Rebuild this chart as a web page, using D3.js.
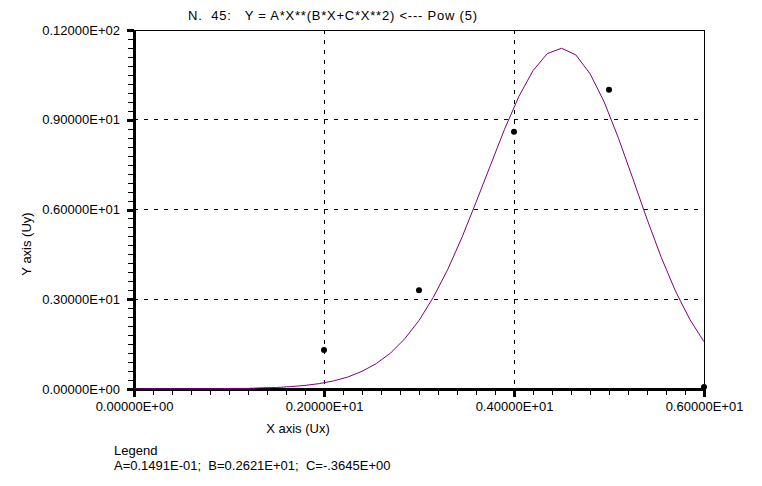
<!DOCTYPE html>
<html>
<head>
<meta charset="utf-8">
<script src="https://cdn.jsdelivr.net/npm/d3@7"></script>
<style>
  body { margin: 0; background: #fff; }
  text { font-family: "Liberation Sans", Arial, sans-serif; font-size: 13px; fill: #000; white-space: pre; }
</style>
</head>
<body>
<div id="chart"></div>
<script>
////////
// Data

// measured points
let pointX = [2, 3, 4, 5, 6];
let pointY = [1.3, 3.3, 8.6, 10.0, 0.07];

// fitted curve, vertices every 0.15 along x
let curveX = [0, 0.15, 0.3, 0.45, 0.6, 0.75, 0.9, 1.05, 1.2, 1.35,
  1.5, 1.65, 1.8, 1.95, 2.1, 2.25, 2.4, 2.55, 2.7, 2.85,
  3.0, 3.15, 3.3, 3.45, 3.6, 3.75, 3.9, 4.05, 4.2, 4.35,
  4.5, 4.65, 4.8, 4.95, 5.1, 5.25, 5.4, 5.55, 5.7, 5.85, 6.0];
let curveY = [0.00, 0.01, 0.01, 0.01, 0.01, 0.01, 0.01, 0.02, 0.02, 0.04,
  0.05, 0.08, 0.12, 0.18, 0.27, 0.40, 0.59, 0.85, 1.20, 1.68,
  2.29, 3.06, 3.98, 5.05, 6.24, 7.46, 8.68, 9.77, 10.64, 11.21,
  11.39, 11.17, 10.54, 9.59, 8.38, 7.04, 5.68, 4.40, 3.27, 2.33, 1.58];

// axis ticks and labels
let xTicks = [0, 2, 4, 6];
let xTickLabels = ["0.00000E+00", "0.20000E+01", "0.40000E+01", "0.60000E+01"];
let yTicks = [0, 3, 6, 9, 12];
let yTickLabels = ["0.00000E+00", "0.30000E+01", "0.60000E+01", "0.90000E+01", "0.12000E+02"];

let titleText = "N.  45:   Y = A*X**(B*X+C*X**2) <--- Pow (5)";
let legendLines = ["Legend", "A=0.1491E-01;  B=0.2621E+01;  C=-.3645E+00"];


////////
// SVG canvas
let svg_width = 762;
let svg_height = 486;

let plotLeft = 134, plotRight = 704, plotTop = 30, plotBottom = 389;

let svg = d3.select("#chart")
  .append("svg")
  .attr("width", svg_width)
  .attr("height", svg_height);


////////
// Scales
let xScale = d3.scaleLinear()
  .domain([0, 6])
  .range([plotLeft, plotRight]);

let yScale = d3.scaleLinear()
  .domain([0, 12])
  .range([plotBottom, plotTop]);

let xMinor = d3.range(0, 31).map(i => i * 0.2);
let yMinor = d3.range(0, 41).map(i => i * 0.3);


////////
// Dotted grid lines at inner major ticks
svg.append("g")
  .selectAll("line")
  .data(xTicks.slice(1, -1))
  .enter()
  .append("line")
  .attr("x1", d => xScale(d)).attr("x2", d => xScale(d))
  .attr("y1", plotTop).attr("y2", plotBottom)
  .attr("stroke", "#000")
  .attr("stroke-dasharray", "4,6")
  .attr("shape-rendering", "crispEdges");

svg.append("g")
  .selectAll("line")
  .data(yTicks.slice(1, -1))
  .enter()
  .append("line")
  .attr("x1", plotLeft).attr("x2", plotRight)
  .attr("y1", d => yScale(d)).attr("y2", d => yScale(d))
  .attr("stroke", "#000")
  .attr("stroke-dasharray", "4,6")
  .attr("shape-rendering", "crispEdges");

// thin top and right border
svg.append("path")
  .attr("d", `M${plotLeft},${plotTop}H${plotRight}V${plotBottom}`)
  .attr("fill", "none")
  .attr("stroke", "#000")
  .attr("shape-rendering", "crispEdges");


////////
// Axes: minor ticks, then major ticks with labels, thick axis line
let xAxisMinor = d3.axisBottom(xScale)
  .tickValues(xMinor).tickSize(6).tickFormat("").tickSizeOuter(0);
let xAxisMajor = d3.axisBottom(xScale)
  .tickValues(xTicks).tickSize(8).tickPadding(5).tickSizeOuter(0)
  .tickFormat((d, i) => xTickLabels[i]);

let yAxisMinor = d3.axisLeft(yScale)
  .tickValues(yMinor).tickSize(6).tickFormat("").tickSizeOuter(0);
let yAxisMajor = d3.axisLeft(yScale)
  .tickValues(yTicks).tickSize(7).tickPadding(7).tickSizeOuter(0)
  .tickFormat((d, i) => yTickLabels[i]);

function styleAxis(g, width) {
  g.attr("font-family", null).attr("font-size", null);
  g.selectAll(".domain").remove();
  g.selectAll(".tick line")
    .attr("stroke", "#000")
    .attr("stroke-width", width)
    .attr("shape-rendering", "crispEdges");
}

svg.append("g")
  .attr("transform", `translate(0,${plotBottom})`)
  .call(xAxisMinor)
  .call(g => styleAxis(g, 1));

svg.append("g")
  .attr("transform", `translate(0,${plotBottom})`)
  .call(xAxisMajor)
  .call(g => styleAxis(g, 3));

svg.append("g")
  .attr("transform", `translate(${plotLeft},0)`)
  .call(yAxisMinor)
  .call(g => styleAxis(g, 1));

svg.append("g")
  .attr("transform", `translate(${plotLeft},0)`)
  .call(yAxisMajor)
  .call(g => styleAxis(g, 3));

// thick axis lines
svg.append("line")
  .attr("x1", plotLeft - 2).attr("x2", plotRight + 2)
  .attr("y1", plotBottom).attr("y2", plotBottom)
  .attr("stroke", "#000").attr("stroke-width", 3)
  .attr("shape-rendering", "crispEdges");
svg.append("line")
  .attr("x1", plotLeft).attr("x2", plotLeft)
  .attr("y1", plotTop).attr("y2", plotBottom + 2)
  .attr("stroke", "#000").attr("stroke-width", 3)
  .attr("shape-rendering", "crispEdges");


////////
// Fitted curve and points
let curveData = curveX.map((x, i) => ({x: x, y: curveY[i]}));

let line = d3.line()
  .x(d => xScale(d.x))
  .y(d => yScale(d.y));

svg.append("path")
  .datum(curveData)
  .attr("d", line)
  .attr("fill", "none")
  .attr("stroke", "#800080")
  .attr("stroke-width", 1);

svg.selectAll("circle.pt")
  .data(pointX.map((x, i) => ({x: x, y: pointY[i]})))
  .enter()
  .append("circle")
  .attr("class", "pt")
  .attr("r", 3)
  .attr("fill", "#000")
  .attr("cx", d => xScale(d.x))
  .attr("cy", d => yScale(d.y));


////////
// Titles and legend
svg.append("text")
  .attr("x", 188).attr("y", 20)
  .attr("textLength", 289)
  .attr("lengthAdjust", "spacing")
  .text(titleText);

svg.append("text")
  .attr("x", 298).attr("y", 433)
  .attr("text-anchor", "middle")
  .text("X axis (Ux)");

svg.append("text")
  .attr("transform", "translate(31,244) rotate(-90)")
  .attr("text-anchor", "middle")
  .text("Y axis (Uy)");

svg.selectAll("text.legend")
  .data(legendLines)
  .enter()
  .append("text")
  .attr("class", "legend")
  .attr("x", 114)
  .attr("y", (d, i) => 455 + i * 15)
  .text(d => d);
</script>
</body>
</html>
